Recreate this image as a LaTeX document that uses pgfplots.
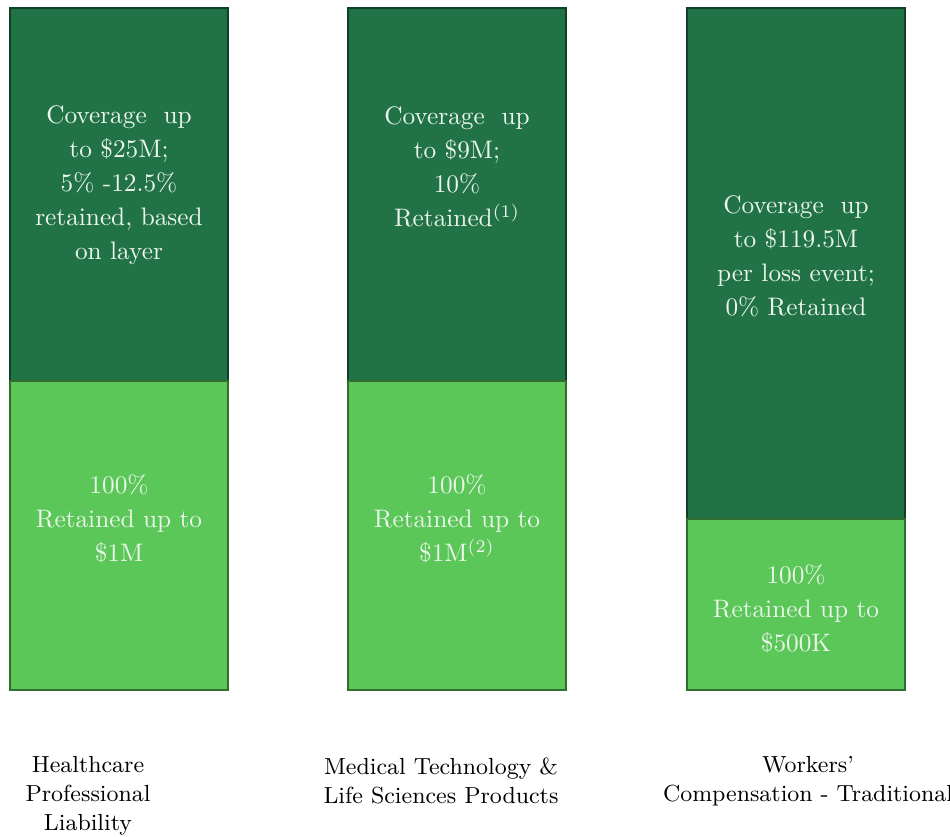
\documentclass[border=0pt]{standalone}
\usepackage{pgfplots}
\pgfplotsset{compat=1.18}
\definecolor{darkg}{RGB}{33,115,70}
\definecolor{lightg}{RGB}{91,199,88}
\definecolor{intxt}{RGB}{236,246,236}
\tikzset{intext/.style={font=\fontsize{10.0}{13.4}\selectfont, text=intxt, align=center},
  cat/.style={font=\fontsize{9.2}{11.4}\selectfont, text=black, align=center}}
\begin{document}
\begin{tikzpicture}
\begin{axis}[
  scale only axis, width=13.2cm, height=11.616cm,
  xmin=0, xmax=950, ymin=-146, ymax=690,
  hide axis, clip=false,
  ybar stacked, bar width=218,
]
\addplot[fill=lightg, draw=lightg!55!black, line width=0.5pt] coordinates {(119,309) (457,309) (796,171)};
\addplot[fill=darkg, draw=darkg!55!black, line width=0.5pt] coordinates {(119,373) (457,373) (796,511)};
\coordinate (bbl) at (axis cs:0,-146);
\coordinate (bbr) at (axis cs:950,690);
\coordinate (t1) at (axis cs:119,505);
\coordinate (t2) at (axis cs:119,171);
\coordinate (t3) at (axis cs:457,523);
\coordinate (t4) at (axis cs:457,171);
\coordinate (t5) at (axis cs:796,434);
\coordinate (t6) at (axis cs:796,81);
\coordinate (c1) at (axis cs:88,-106);
\coordinate (c2) at (axis cs:441,-91);
\coordinate (c3) at (axis cs:808,-91);
\end{axis}
\path[use as bounding box] (bbl) rectangle (bbr);
\node[intext] at (t1) {Coverage~~up\\to \$25M;\\5\% -12.5\%\\retained, based\\on layer};
\node[intext] at (t2) {100\%\\Retained up to\\\$1M};
\node[intext] at (t3) {Coverage~~up\\to \$9M;\\10\%\\Retained\textsuperscript{(1)}};
\node[intext] at (t4) {100\%\\Retained up to\\\$1M\textsuperscript{(2)}};
\node[intext] at (t5) {Coverage~~up\\to \$119.5M\\per loss event;\\0\% Retained};
\node[intext] at (t6) {100\%\\Retained up to\\\$500K};
\node[cat] at (c1) {Healthcare\\Professional\\Liability};
\node[cat] at (c2) {Medical Technology \&\\Life Sciences Products};
\node[cat] at (c3) {Workers'\\Compensation - Traditional};
\end{tikzpicture}
\end{document}
